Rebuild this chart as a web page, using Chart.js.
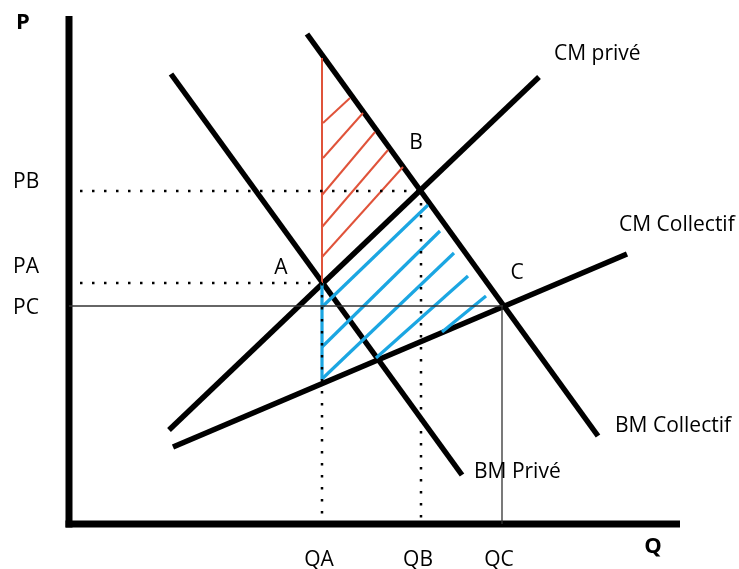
<!DOCTYPE html>
<html>
<head>
<meta charset="utf-8">
<script src="https://cdn.jsdelivr.net/npm/chart.js@4/dist/chart.umd.min.js"></script>
<style>
  body { margin: 0; background: #fff; }
  #wrap { width: 739px; height: 569px; position: relative; }
</style>
</head>
<body>
<div id="wrap"><canvas id="diagram"></canvas></div>
<script>
// Quantities / prices at the three equilibria (Q and P units)
const qLabels = ['QA', 'QB', 'QC'];
const qValues = [50.6, 70.4, 86.6];
const pLabels = ['PA', 'PB', 'PC'];
const pValues = [48.2, 66.6, 43.6];

// Equilibrium points
const pointNames = ['A', 'B', 'C'];
const pointQ = [50.6, 70.2, 86.8];
const pointP = [48.2, 66.6, 43.6];

// Curves, start and end  [q1, p1, q2, p2]
const curveNames = ['BM Privé', 'BM Collectif', 'CM privé', 'CM Collectif'];
const bmPrive = [20.4, 90, 78.6, 9.8];
const bmCollectif = [47.6, 98, 105.8, 17.6];
const cmPrive = [20, 18.8, 94, 89.4];
const cmCollectif = [20.8, 15.4, 111.6, 54];

// Axis extents
const qAxisEnd = 122.2;
const pAxisEnd = 101.6;

// Hatching segments [q1, p1, q2, p2]
const redTop = 93.2;
const redHatch = [
  [50.8, 80.2, 56.2, 85.2],
  [50.8, 73.2, 58.8, 82.2],
  [50.6, 65.8, 61.2, 78.4],
  [50.6, 59.4, 63.8, 74.8],
  [50.6, 53.4, 66.8, 71.4]
];
const blueBottom = 28.8;
const blueHatch = [
  [50.6, 43.4, 71.8, 63.8],
  [50.6, 35.4, 74.2, 58.6],
  [50.6, 29.0, 77.0, 54.2],
  [61.4, 33.2, 79.8, 49.6],
  [74.6, 38.4, 83.4, 45.6]
];

function seg(s) {
  return [{x: s[0], y: s[1]}, {x: s[2], y: s[3]}];
}

function lineSet(data, color, width, dash) {
  return {
    data: data,
    showLine: true,
    borderColor: color,
    borderWidth: width,
    borderDash: dash || [],
    borderCapStyle: 'butt',
    pointRadius: 0,
    clip: false
  };
}

const datasets = [];
const dots = [2.5, 9.5];

// dotted guides PA, PB, QA, QB
datasets.push(lineSet([{x: 2.2, y: pValues[0]}, {x: pointQ[0], y: pValues[0]}], '#000', 2.5, dots));
datasets.push(lineSet([{x: 2.2, y: pValues[1]}, {x: pointQ[1], y: pValues[1]}], '#000', 2.5, dots));
datasets.push(lineSet([{x: qValues[0], y: pointP[0]}, {x: qValues[0], y: 0}], '#000', 2.5, dots));
datasets.push(lineSet([{x: qValues[1], y: pointP[1]}, {x: qValues[1], y: 0}], '#000', 2.5, dots));
// thin solid guides PC, QC
datasets.push(lineSet([{x: 0, y: pValues[2]}, {x: pointQ[2], y: pValues[2]}], '#333', 1.3));
datasets.push(lineSet([{x: qValues[2], y: pointP[2]}, {x: qValues[2], y: 0}], '#333', 1.3));

// red hatch
datasets.push(lineSet([{x: pointQ[0], y: pointP[0]}, {x: pointQ[0], y: redTop}], '#E0533A', 2));
redHatch.forEach(s => datasets.push(lineSet(seg(s), '#E0533A', 2)));
// blue hatch
datasets.push(lineSet([{x: pointQ[0], y: pointP[0]}, {x: pointQ[0], y: blueBottom}], '#1BA6E2', 3.2));
blueHatch.forEach(s => datasets.push(lineSet(seg(s), '#1BA6E2', 3.2)));

// curves
[bmPrive, bmCollectif, cmPrive, cmCollectif].forEach(c => datasets.push(lineSet(seg(c), '#000', 5.5)));

// axes
datasets.push(lineSet([{x: 0, y: -0.7}, {x: 0, y: pAxisEnd}], '#000', 7));
datasets.push(lineSet([{x: -0.7, y: 0}, {x: qAxisEnd, y: 0}], '#000', 7));

// text labels drawn from the scales
const textPlugin = {
  id: 'texts',
  afterDatasetsDraw(chart) {
    const ctx = chart.ctx;
    const xs = chart.scales.x, ys = chart.scales.y;
    const X = v => xs.getPixelForValue(v);
    const Y = v => ys.getPixelForValue(v);
    ctx.save();
    ctx.fillStyle = '#000';
    ctx.textBaseline = 'middle';
    ctx.font = '21px "Open Sans"';

    // P labels, left of the axis
    ctx.textAlign = 'left';
    const pShift = [-16, -9, 2];
    pLabels.forEach((l, i) => ctx.fillText(l, 13, Y(pValues[i]) + pShift[i]));

    // Q labels under the axis
    ctx.textAlign = 'center';
    qLabels.forEach((l, i) => ctx.fillText(l, X(qValues[i]) - 3, Y(0) + 36));

    // point names
    const off = [[-41, -15], [-4, -48], [14, -33]];
    pointNames.forEach((l, i) => ctx.fillText(l, X(pointQ[i]) + off[i][0], Y(pointP[i]) + off[i][1]));

    // curve names next to their ends
    ctx.textAlign = 'left';
    const curves = [bmPrive, bmCollectif, cmPrive, cmCollectif];
    const cOff = [[12, -3], [17, -10], [15, -23], [-8, -29]];
    curveNames.forEach((l, i) => {
      const c = curves[i];
      ctx.fillText(l, X(c[2]) + cOff[i][0], Y(c[3]) + cOff[i][1]);
    });

    // axis titles
    ctx.font = 'bold 22px "Open Sans"';
    ctx.textAlign = 'center';
    ctx.fillText('P', X(0) - 46, Y(pAxisEnd) + 7);
    ctx.fillText('Q', X(qAxisEnd) - 27, Y(0) + 23);
    ctx.restore();
  }
};

new Chart(document.getElementById('diagram'), {
  type: 'scatter',
  data: { datasets: datasets },
  options: {
    responsive: true,
    maintainAspectRatio: false,
    animation: false,
    layout: { padding: 0 },
    plugins: { legend: { display: false }, tooltip: { enabled: false } },
    scales: {
      x: { type: 'linear', display: false, min: -13.8, max: 134 },
      y: { type: 'linear', display: false, min: -9, max: 104.8 }
    }
  },
  plugins: [textPlugin]
});
</script>
</body>
</html>
